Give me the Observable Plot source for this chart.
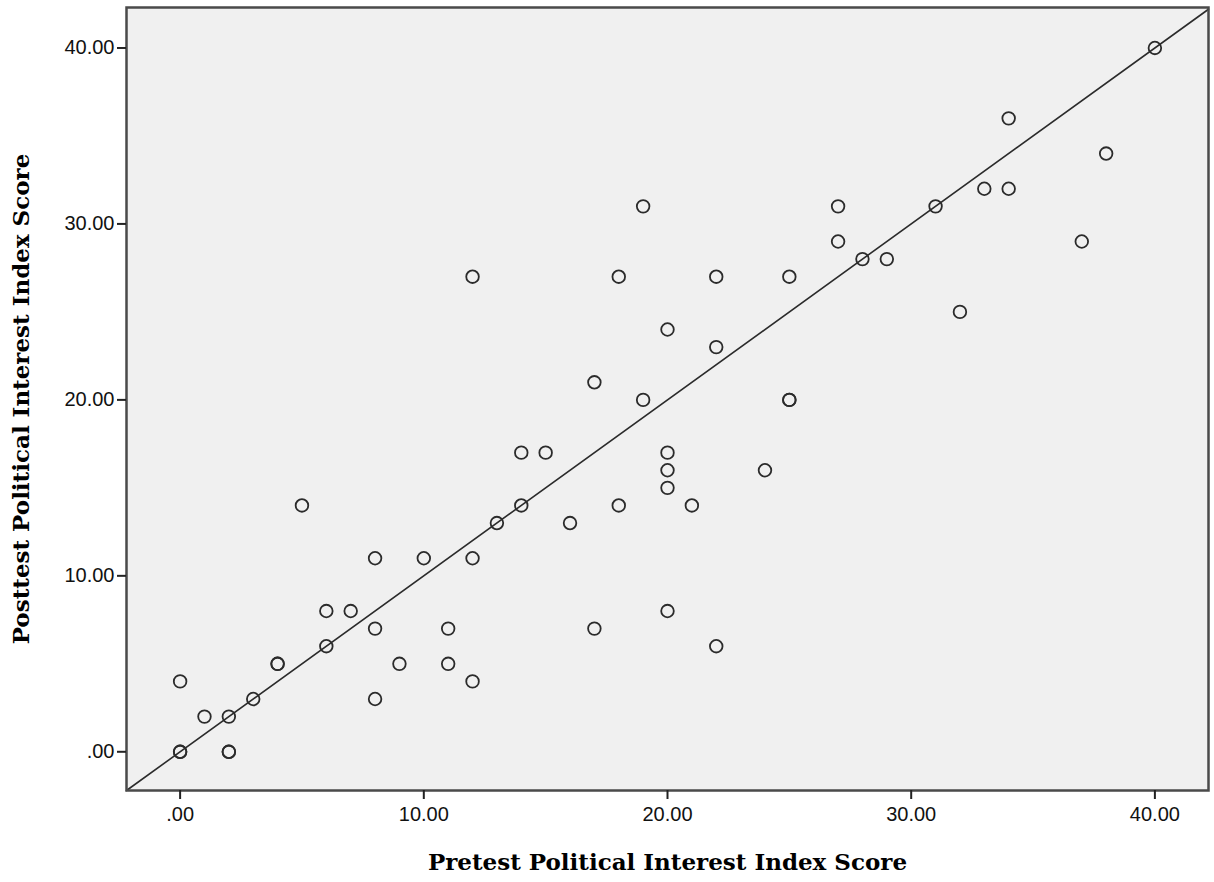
<!DOCTYPE html>
<html>
<head>
<meta charset="utf-8">
<script src="https://cdn.jsdelivr.net/npm/d3@7"></script>
<script src="https://cdn.jsdelivr.net/npm/@observablehq/plot@0.6"></script>
<style>
  html, body { margin: 0; padding: 0; background: #fff; }
  #chart svg { display: block; }
</style>
</head>
<body>
<div id="chart"></div>
<script>
const pretest  = [0, 0, 0, 1, 2, 2, 2, 3, 4, 4, 5, 6, 6, 7, 8, 8, 8, 9, 10, 11, 11, 12, 12, 12, 13, 14, 14, 15, 16, 17, 17, 18, 18, 19, 19, 20, 20, 20, 20, 20, 21, 22, 22, 22, 24, 25, 25, 25, 27, 27, 28, 29, 31, 32, 33, 34, 34, 37, 38, 40];
const posttest = [4, 0, 0, 2, 2, 0, 0, 3, 5, 5, 14, 8, 6, 8, 11, 7, 3, 5, 11, 7, 5, 27, 11, 4, 13, 17, 14, 17, 13, 21, 7, 27, 14, 31, 20, 24, 17, 16, 15, 8, 14, 27, 23, 6, 16, 27, 20, 20, 31, 29, 28, 28, 31, 25, 32, 36, 32, 29, 34, 40];
const tickValues = [0, 10, 20, 30, 40];
const xTitle = "Pretest Political Interest Index Score";
const yTitle = "Posttest Political Interest Index Score";
const fitLine = [-2.2, 42.2];

const data = pretest.map((x, i) => ({x, y: posttest[i]}));
const fmt = d => d === 0 ? ".00" : d.toFixed(2);

const chart = Plot.plot({
  width: 1214,
  height: 882,
  marginLeft: 126,
  marginRight: 6,
  marginTop: 7,
  marginBottom: 92,
  x: {domain: [-2.2, 42.2]},
  y: {domain: [-2.2, 42.3]},
  style: {fontFamily: "Liberation Sans, Arial, sans-serif", fontSize: "20px", background: "#fff"},
  marks: [
    Plot.frame({fill: "#f0f0f0"}),
    Plot.line(fitLine.map(v => ({x: v, y: v})), {x: "x", y: "y", stroke: "#2b2b2b", strokeWidth: 1.6}),
    Plot.dot(data, {x: "x", y: "y", r: 6.3, stroke: "#2b2b2b", strokeWidth: 1.8, fill: "none"}),
    Plot.frame({stroke: "#4a4a4a", strokeWidth: 2.5}),
    Plot.axisX(tickValues, {tickFormat: fmt, tickSize: 9, tickPadding: 7, fontSize: 20, stroke: "#222", strokeWidth: 2, fill: "#111", label: null}),
    Plot.axisY(tickValues, {tickFormat: fmt, tickSize: 9, tickPadding: 3, fontSize: 20, stroke: "#222", strokeWidth: 2, fill: "#111", label: null}),
    Plot.text([xTitle], {frameAnchor: "bottom", dy: 79, text: d => d, fontFamily: "DejaVu Serif, serif", fontWeight: "bold", fontSize: 23, fill: "#000"}),
    Plot.text([yTitle], {frameAnchor: "left", dx: -105, rotate: -90, textAnchor: "middle", text: d => d, fontFamily: "DejaVu Serif, serif", fontWeight: "bold", fontSize: 23, fill: "#000"})
  ]
});
document.getElementById("chart").appendChild(chart);
</script>
</body>
</html>
